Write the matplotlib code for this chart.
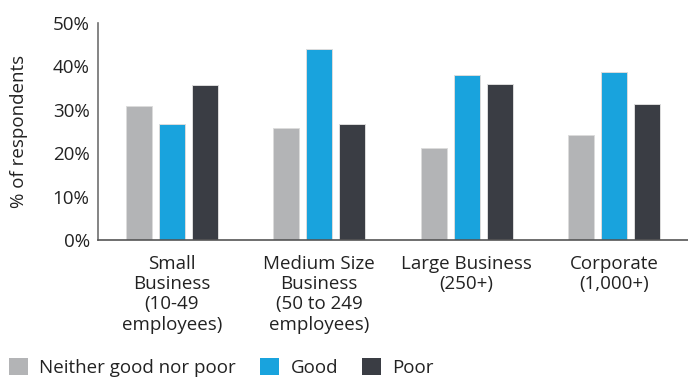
import matplotlib
matplotlib.use('Agg')
import matplotlib.pyplot as plt
from matplotlib.patches import Patch
import numpy as np

plt.rcParams['font.family'] = ['Open Sans', 'DejaVu Sans']

# 各规模企业的调查结果 (%)
categories = ['Small\nBusiness\n(10-49\nemployees)',
              'Medium Size\nBusiness\n(50 to 249\nemployees)',
              'Large Business\n(250+)',
              'Corporate\n(1,000+)']
neither = [30.8, 25.8, 21.2, 24.2]
good = [26.8, 44.0, 38.1, 38.7]
poor = [35.6, 26.8, 36.0, 31.4]

series_names = ['Neither good nor poor', 'Good', 'Poor']
colors = ['#b3b4b6', '#19a3dd', '#3a3d44']
fs = 13.5

fig = plt.figure(figsize=(6.88, 3.8), dpi=100)
ax = fig.add_axes([0.1424, 0.3684, 0.8576, 0.5711])

x = np.arange(len(categories))
width = 0.176
step = 0.223
for i, (vals, col) in enumerate(zip([neither, good, poor], colors)):
    ax.bar(x + (i - 1) * step, vals, width, color=col,
           edgecolor='#dcdcdc', linewidth=0.7)

ax.set_xlim(-0.5, 3.5)
ax.set_ylim(0, 50)
ax.set_yticks(range(0, 51, 10))
ax.set_yticklabels([f'{v}%' for v in range(0, 51, 10)], fontsize=fs, color='#222222')
ax.set_xticks(x)
ax.set_xticklabels(categories, fontsize=fs, color='#222222', linespacing=1.15)
ax.tick_params(axis='both', length=0)
ax.tick_params(axis='y', pad=6)
ax.tick_params(axis='x', pad=11)
ax.set_ylabel('% of respondents', fontsize=fs, color='#222222')
ax.yaxis.set_label_coords(-0.118, 0.5)

for side in ['top', 'right']:
    ax.spines[side].set_visible(False)
ax.spines['left'].set_color('#707070')
ax.spines['bottom'].set_color('#555555')
ax.spines['left'].set_linewidth(1.2)
ax.spines['bottom'].set_linewidth(1.2)

handles = [Patch(facecolor=c, edgecolor='none') for c in colors]
fig.legend(handles, series_names, loc='center left', bbox_to_anchor=(-0.011, 0.032),
           ncol=3, frameon=False, fontsize=fs, handlelength=1.0, handleheight=1.0,
           columnspacing=1.3, handletextpad=0.6, labelcolor='#222222')

fig.savefig('out.png', dpi=100)
